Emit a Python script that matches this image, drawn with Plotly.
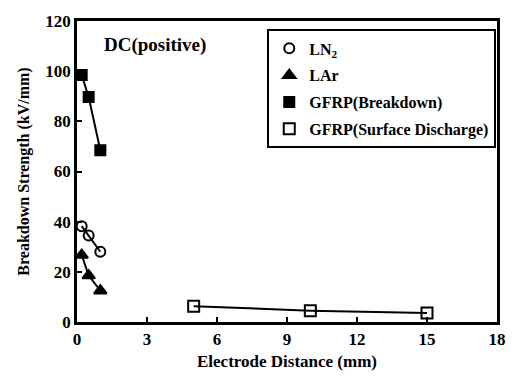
import plotly.graph_objects as go

ln2_x = [0.2, 0.5, 1.0]
ln2_y = [38.2, 34.5, 28.0]
lar_x = [0.2, 0.5, 1.0]
lar_y = [26.7, 18.5, 12.5]
gb_x = [0.2, 0.5, 1.0]
gb_y = [98.5, 89.7, 68.5]
gs_x = [5, 10, 15]
gs_y = [6.3, 4.5, 3.6]

x_ticks = [0, 3, 6, 9, 12, 15, 18]
y_ticks = [0, 20, 40, 60, 80, 100, 120]

FONT = "Liberation Serif, Times New Roman, serif"
series = [
    ("LN<sub>2</sub>", ln2_x, ln2_y, "circle-open", 10),
    ("LAr", lar_x, lar_y, "triangle-up", 11),
    ("GFRP(Breakdown)", gb_x, gb_y, "square", 10),
    ("GFRP(Surface Discharge)", gs_x, gs_y, "square-open", 11),
]

fig = go.Figure()
for i, (name, xs, ys, sym, sz) in enumerate(series):
    fig.add_trace(go.Scatter(x=xs, y=ys, mode="lines", line=dict(color="black", width=2),
                             showlegend=False, hoverinfo="skip"))
    fig.add_trace(go.Scatter(x=xs, y=ys, mode="markers", name="<b>" + name + "</b>", legendgroup=str(i),
                             marker=dict(symbol=sym, size=sz, color="black",
                                         line=dict(color="black", width=2))))

axis_common = dict(showline=True, linecolor="black", linewidth=2.5, mirror=True,
                   ticks="inside", ticklen=5, tickwidth=2, tickcolor="black",
                   showgrid=False, zeroline=False,
                   tickfont=dict(family=FONT, size=17, color="black"))

fig.update_xaxes(range=[0, 18], tickvals=x_ticks, ticktext=["<b>%d</b>" % v for v in x_ticks],
                 title=dict(text="<b>Electrode Distance (mm)</b>", standoff=7,
                            font=dict(family=FONT, size=17, color="black")),
                 **axis_common)
fig.update_yaxes(range=[0, 120], tickvals=y_ticks, ticktext=["<b>%d</b>" % v for v in y_ticks],
                 title=dict(text="<b>Breakdown Strength (kV/mm)</b>", standoff=12,
                            font=dict(family=FONT, size=16, color="black")),
                 **axis_common)

fig.add_annotation(text="<b>DC(positive)</b>", xref="paper", yref="paper", x=0.06, y=0.92,
                   xanchor="left", yanchor="middle", showarrow=False,
                   font=dict(family=FONT, size=19, color="black"))

fig.update_layout(
    width=518, height=381, margin=dict(l=77, r=15, t=13, b=59),
    paper_bgcolor="white", plot_bgcolor="white",
    legend=dict(x=0.453, y=0.972, xanchor="left", yanchor="top",
                bordercolor="black", borderwidth=2, bgcolor="white",
                tracegroupgap=3, itemwidth=30,
                font=dict(family=FONT, size=16, color="black")),
)

fig.write_html("out.html")
